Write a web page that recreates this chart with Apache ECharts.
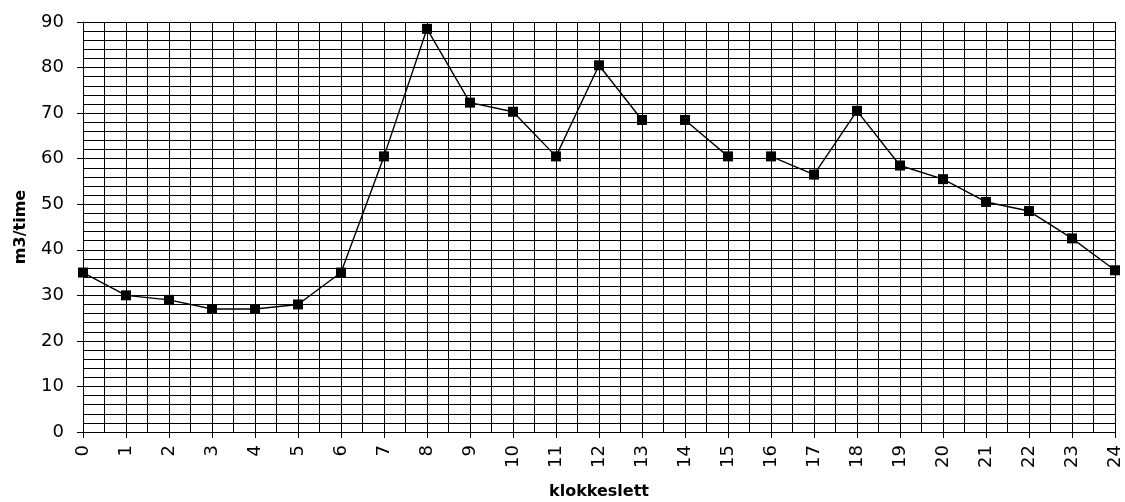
<!DOCTYPE html>
<html>
<head>
<meta charset="utf-8">
<script src="https://cdn.jsdelivr.net/npm/echarts@6/dist/echarts.min.js"></script>
<style>html,body{margin:0;padding:0;background:#fff}#c{width:1125px;height:502px}</style>
</head>
<body>
<div id="c"></div>
<script>
var hours = [0,1,2,3,4,5,6,7,8,9,10,11,12,13,14,15,16,17,18,19,20,21,22,23,24];
var flow = [35,30,29,27,27,28,35,60.5,88.5,72.3,70.3,60.5,80.5,68.5,68.5,60.5,60.5,56.5,70.5,58.5,55.5,50.5,48.5,42.5,35.5];
var breaksAfter = [13, 15]; // no line drawn between 13-14 and 15-16
var yTicks = [0,10,20,30,40,50,60,70,80,90];
var xName = 'klokkeslett';
var yName = 'm3/time';

var segments = [];
var cur = [];
for (var i = 0; i < hours.length; i++) {
  cur.push([hours[i], flow[i]]);
  if (breaksAfter.indexOf(hours[i]) >= 0) { segments.push(cur); cur = []; }
}
if (cur.length) segments.push(cur);

var font = 'DejaVu Sans';
var gridLine = {show: true, lineStyle: {color: '#000', width: 1}};
var series = segments.map(function (seg) {
  return {
    type: 'line', data: seg, symbol: 'rect', symbolSize: 10,
    itemStyle: {color: '#000'}, lineStyle: {color: '#000', width: 1.4},
    animation: false, z: 5
  };
});

var chart = echarts.init(document.getElementById('c'));
chart.setOption({
  backgroundColor: '#fff',
  animation: false,
  grid: {left: 83, right: 10, top: 22, bottom: 70, containLabel: false, outerBoundsMode: 'none'},
  xAxis: {
    type: 'value', min: 0, max: 24, interval: 1,
    name: xName, nameLocation: 'middle', nameGap: 52,
    nameTextStyle: {fontFamily: font, fontWeight: 'bold', fontSize: 16, color: '#000'},
    axisLine: {show: true, lineStyle: {color: '#000', width: 1}},
    axisTick: {show: true, length: 6, lineStyle: {color: '#000'}},
    axisLabel: {rotate: 90, margin: 13, fontFamily: font, fontSize: 18, color: '#000'},
    splitLine: gridLine,
    minorTick: {show: false, splitNumber: 2},
    minorSplitLine: {show: true, lineStyle: {color: '#000', width: 1}}
  },
  yAxis: {
    type: 'value', min: yTicks[0], max: yTicks[yTicks.length - 1], interval: 10,
    name: yName, nameLocation: 'middle', nameGap: 54,
    nameTextStyle: {fontFamily: font, fontWeight: 'bold', fontSize: 16, color: '#000'},
    axisLine: {show: true, lineStyle: {color: '#000', width: 1}},
    axisTick: {show: true, length: 6, lineStyle: {color: '#000'}},
    axisLabel: {margin: 19, fontFamily: font, fontSize: 18, color: '#000'},
    splitLine: gridLine,
    minorTick: {show: false, splitNumber: 5},
    minorSplitLine: {show: true, lineStyle: {color: '#000', width: 1}}
  },
  series: series
});
</script>
</body>
</html>
